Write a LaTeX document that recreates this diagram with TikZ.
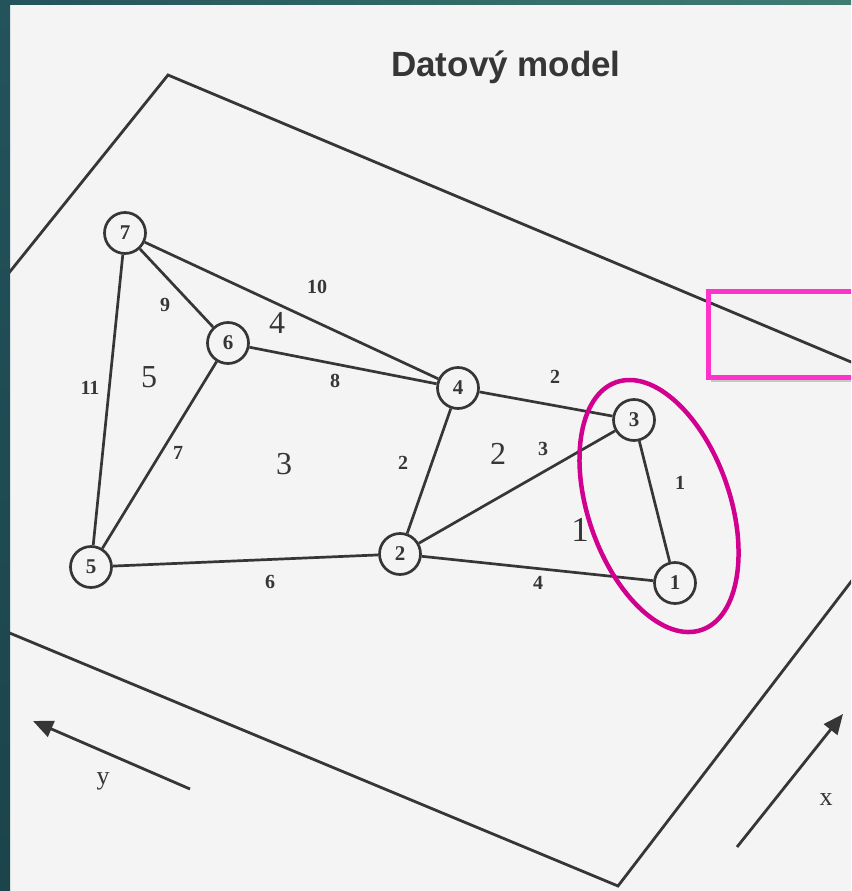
\documentclass[tikz,border=0pt]{standalone}
\usepackage{fontspec}
\setmainfont{Liberation Serif}
\newfontfamily\sansf{Liberation Sans}
\usetikzlibrary{arrows.meta}
\definecolor{bg}{HTML}{F4F4F4}
\definecolor{ink}{HTML}{363636}
\definecolor{tealA}{HTML}{23535B}
\definecolor{tealB}{HTML}{1B444B}
\definecolor{tealC}{HTML}{3F7D72}
\definecolor{magA}{HTML}{D2008E}
\definecolor{magB}{HTML}{FF33CC}
\begin{document}
\begin{tikzpicture}[x=1pt,y=-1pt,
  vert/.style={circle, draw=ink, line width=2.7pt, fill=bg, minimum size=41pt, inner sep=0pt,
               font=\fontsize{21}{21}\selectfont\bfseries, text=ink},
  edge/.style={draw=ink, line width=2.7pt},
  elab/.style={font=\fontsize{20}{20}\selectfont\bfseries, text=ink, inner sep=0pt},
  flab/.style={font=\fontsize{32}{32}\selectfont, text=ink, inner sep=0pt},
  frameline/.style={draw=ink, line width=2.8pt},
  axisarrow/.style={draw=ink, line width=2.8pt, -{Triangle[length=20pt,width=17pt]}},
  axlab/.style={font=\fontsize{26}{26}\selectfont, text=ink, inner sep=0pt},
]
\useasboundingbox (0,0) rectangle (851,891);
\clip (0,0) rectangle (851,891);
\fill[bg] (0,0) rectangle (851,891);

% highlight box (fill and shadow)
\fill[black, opacity=0.18] (711,295) rectangle (870,382);
\fill[white, opacity=0.8] (708,291) rectangle (870,377);

% title
\node[font=\sansf\bfseries\fontsize{35}{35}\selectfont, text=ink, anchor=base] (title) at (506,77) {Datový model};

% tilted plane
\coordinate (pA) at (168,75);
\coordinate (pB) at (0,284);
\coordinate (pC) at (863,367);
\coordinate (pD) at (0,629);
\coordinate (pE) at (618,886);
\coordinate (pF) at (860,570);
\draw[frameline, line join=miter] (pB) -- (pA) -- (pC);
\draw[frameline, line join=miter] (pD) -- (pE) -- (pF);

% vertices
\node[vert] (n7) at (125,233) {7};
\node[vert] (n6) at (228,343) {6};
\node[vert] (n5) at (91,567) {5};
\node[vert] (n2) at (400,554) {2};
\node[vert] (n4) at (458,388) {4};
\node[vert] (n3) at (634,420) {3};
\node[vert] (n1) at (675,583) {1};

% edges
\draw[edge] (n7) -- (n5);
\draw[edge] (n7) -- (n6);
\draw[edge] (n7) -- (n4);
\draw[edge] (n6) -- (n4);
\draw[edge] (n6) -- (n5);
\draw[edge] (n5) -- (n2);
\draw[edge] (n4) -- (n2);
\draw[edge] (n4) -- (n3);
\draw[edge] (n2) -- (n3);
\draw[edge] (n2) -- (n1);
\draw[edge] (n3) -- (n1);

% edge labels
\node[elab] (e11) at (90,388) {11};
\node[elab] (e9) at (165,305) {9};
\node[elab] (e10) at (317,287) {10};
\node[elab] (e8) at (335,381) {8};
\node[elab] (e7) at (178,453) {7};
\node[elab] (e6) at (270,582) {6};
\node[elab] (e2a) at (403,463) {2};
\node[elab] (e2b) at (555,377) {2};
\node[elab] (e3) at (543,449) {3};
\node[elab] (e4) at (538,583) {4};
\node[elab] (e1) at (680,483) {1};

% face labels
\node[flab] (f4) at (277,323) {4};
\node[flab] (f5) at (149,377) {5};
\node[flab] (f3) at (284,464) {3};
\node[flab] (f2) at (498,454) {2};
\node[flab, font=\fontsize{35}{35}\selectfont] (f1) at (580,530) {1};

% magenta ellipse
\coordinate (ec) at (659,506);
\draw[magA, line width=4.5pt, rotate around={19:(ec)}] (ec) ellipse [x radius=71, y radius=131];

% highlight box border
\draw[magB, line width=5pt] (875,291) -- (708,291) -- (708,377) -- (875,377);

% axes arrows
\coordinate (yt) at (190,789);
\coordinate (yh) at (33,721);
\coordinate (xt) at (737,847);
\coordinate (xh) at (843,714);
\draw[axisarrow] (yt) -- (yh);
\draw[axisarrow] (xt) -- (xh);
\node[axlab] (ylab) at (103,781) {y};
\node[axlab] (xlab) at (826,800) {x};

% slide borders
\shade[top color=tealA, bottom color=tealB] (0,0) rectangle (10,891);
\shade[left color=tealA, right color=tealC] (0,0) rectangle (851,5);
\end{tikzpicture}
\end{document}
